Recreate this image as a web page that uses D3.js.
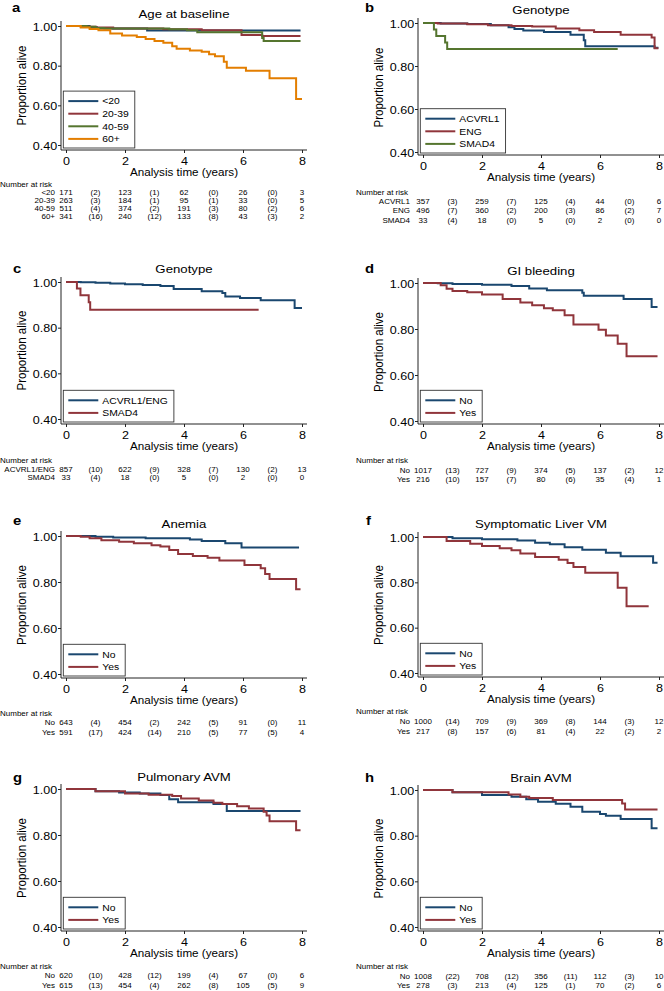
<!DOCTYPE html>
<html><head><meta charset="utf-8">
<script src="https://cdn.jsdelivr.net/npm/d3@7"></script>
<style>
body{margin:0;background:#fff}
svg{display:block;font-family:"Liberation Sans",Arial,Helvetica,sans-serif}
</style>
</head><body><svg id="chart" width="664" height="991"></svg>
<script>
// ---------------- DATA ----------------
const xTicks = [0, 2, 4, 6, 8];
const yTicks = [0.40, 0.60, 0.80, 1.00];
const narYears = [0, 1, 2, 3, 4, 5, 6, 7, 8];
const panelLetters = ["a", "b", "c", "d", "e", "f", "g", "h"];
const titles = ["Age at baseline", "Genotype", "Genotype", "GI bleeding", "Anemia",
  "Symptomatic Liver VM", "Pulmonary AVM", "Brain AVM"];

// group labels
const groupsA = ["<20", "20-39", "40-59", "60+"];
const groupsB = ["ACVRL1", "ENG", "SMAD4"];
const groupsC = ["ACVRL1/ENG", "SMAD4"];
const groupsNoYes = ["No", "Yes"];

// Kaplan-Meier steps [time (years), proportion alive]
const kmA_lt20 = [[0,1],[0.8,0.994],[1.05,0.988],[2.75,0.977],[7.95,0.977]];
const kmA_2039 = [[0,1],[0.5,0.996],[1.0,0.992],[1.6,0.988],[3.3,0.984],[4.6,0.978],[5.95,0.955],[6.65,0.95],[7.95,0.95]];
const kmA_4059 = [[0,1],[0.7,0.996],[1.0,0.99],[1.3,0.988],[3.5,0.984],[4.1,0.978],[4.45,0.968],[6.65,0.94],[6.7,0.925],[7.95,0.925]];
const kmA_60 = [[0,1],[0.5,0.993],[0.8,0.985],[1.1,0.978],[1.5,0.962],[1.9,0.952],[2.4,0.945],[2.7,0.935],[3.0,0.925],[3.3,0.915],[3.6,0.898],[3.75,0.885],[4.2,0.877],[4.6,0.87],[4.85,0.858],[5.05,0.848],[5.35,0.82],[5.45,0.79],[6.1,0.774],[6.9,0.736],[7.8,0.632],[8.0,0.632]];

const kmB_acvrl1 = [[0,1],[0.6,0.998],[1.5,0.995],[2.3,0.99],[2.9,0.98],[3.1,0.972],[3.4,0.965],[4.1,0.958],[5.0,0.945],[5.45,0.92],[5.5,0.892],[7.85,0.885],[7.98,0.885]];
const kmB_eng = [[0,1],[0.5,0.998],[1.5,0.994],[2.2,0.99],[3.0,0.986],[3.7,0.984],[4.5,0.975],[5.3,0.966],[5.8,0.958],[6.7,0.945],[7.75,0.932],[7.85,0.883],[7.98,0.883]];
const kmB_smad4 = [[0,1],[0.37,0.97],[0.45,0.939],[0.75,0.909],[0.82,0.879],[6.6,0.879]];

const kmC_acvrl1eng = [[0,1],[0.5,0.999],[1.0,0.997],[1.5,0.993],[2.0,0.99],[2.6,0.987],[3.2,0.982],[3.65,0.969],[4.6,0.959],[5.3,0.952],[5.4,0.937],[5.9,0.93],[6.6,0.92],[7.75,0.886],[8.0,0.886]];
const kmC_smad4 = [[0,1],[0.37,0.971],[0.49,0.942],[0.77,0.911],[0.82,0.879],[6.53,0.879]];

const kmD_no = [[0,1],[0.5,0.999],[1.0,0.996],[2.0,0.992],[3.0,0.987],[3.6,0.976],[4.2,0.968],[5.4,0.958],[5.45,0.945],[6.8,0.93],[7.75,0.896],[7.95,0.896]];
const kmD_yes = [[0,1],[0.6,0.99],[0.8,0.975],[1.0,0.965],[1.5,0.96],[2.0,0.95],[2.7,0.93],[3.3,0.915],[3.7,0.903],[4.1,0.89],[4.4,0.881],[4.8,0.86],[5.1,0.82],[5.95,0.797],[6.2,0.772],[6.6,0.736],[6.9,0.681],[7.95,0.681]];

const kmE_no = [[0,1],[1.0,0.997],[1.6,0.994],[2.7,0.99],[4.2,0.985],[4.6,0.978],[5.4,0.968],[5.95,0.95],[7.9,0.95]];
const kmE_yes = [[0,1],[0.5,0.997],[0.8,0.99],[1.2,0.982],[1.8,0.975],[2.3,0.968],[2.9,0.96],[3.2,0.954],[3.5,0.939],[3.8,0.922],[4.3,0.913],[4.8,0.905],[5.2,0.893],[6.05,0.874],[6.6,0.86],[6.75,0.835],[6.9,0.813],[7.8,0.768],[7.95,0.768]];

const kmF_no = [[0,1],[1.0,0.995],[2.0,0.99],[3.2,0.985],[3.8,0.975],[4.3,0.968],[4.8,0.955],[5.4,0.944],[6.2,0.93],[6.7,0.915],[7.8,0.886],[7.95,0.886]];
const kmF_yes = [[0,1],[0.8,0.982],[1.6,0.97],[2.0,0.96],[2.6,0.95],[3.0,0.941],[3.3,0.927],[3.8,0.912],[4.6,0.9],[4.9,0.885],[5.1,0.868],[5.5,0.842],[6.6,0.776],[6.9,0.695],[7.65,0.695]];

const kmG_no = [[0,1],[1.0,0.99],[1.8,0.985],[2.5,0.98],[3.2,0.974],[3.5,0.955],[3.8,0.942],[5.0,0.935],[5.45,0.904],[7.95,0.904]];
const kmG_yes = [[0,1],[1.0,0.99],[2.0,0.98],[2.8,0.975],[3.6,0.97],[3.9,0.959],[4.5,0.95],[5.0,0.94],[5.3,0.935],[5.8,0.925],[6.2,0.915],[6.7,0.901],[6.8,0.885],[6.9,0.86],[7.8,0.821],[7.95,0.821]];

const kmH_no = [[0,1],[1.0,0.99],[2.0,0.978],[3.0,0.97],[3.5,0.96],[3.9,0.949],[4.5,0.94],[5.0,0.927],[5.4,0.905],[6.0,0.895],[6.2,0.887],[6.7,0.873],[7.75,0.832],[7.95,0.832]];
const kmH_yes = [[0,1],[1.0,0.99],[2.9,0.98],[3.3,0.97],[3.6,0.965],[4.4,0.956],[6.75,0.941],[6.85,0.915],[7.95,0.915]];

// Number at risk (years 0,2,4,6,8) and events in brackets (odd years)
const atRiskA = [[171,123,62,26,3],[263,184,95,33,5],[511,374,191,80,6],[341,240,133,43,2]];
const eventsA = [[2,1,0,0],[3,1,1,0],[4,2,3,2],[16,12,8,3]];
const atRiskB = [[357,259,125,44,6],[496,360,200,86,7],[33,18,5,2,0]];
const eventsB = [[3,7,4,0],[7,2,3,2],[4,0,0,0]];
const atRiskC = [[857,622,328,130,13],[33,18,5,2,0]];
const eventsC = [[10,9,7,2],[4,0,0,0]];
const atRiskD = [[1017,727,374,137,12],[216,157,80,35,1]];
const eventsD = [[13,9,5,2],[10,7,6,4]];
const atRiskE = [[643,454,242,91,11],[591,424,210,77,4]];
const eventsE = [[4,2,5,0],[17,14,5,5]];
const atRiskF = [[1000,709,369,144,12],[217,157,81,22,2]];
const eventsF = [[14,9,8,3],[8,6,4,2]];
const atRiskG = [[620,428,199,67,6],[615,454,262,105,9]];
const eventsG = [[10,12,4,0],[13,4,8,5]];
const atRiskH = [[1008,708,356,112,10],[278,213,125,70,6]];
const eventsH = [[22,12,11,3],[3,4,1,2]];

// ---------------- STYLE / LAYOUT ----------------
const navy = "#1a476f", maroon = "#90353b", green = "#55752f", orange = "#e37e00";
const colorsA = [navy, maroon, green, orange];
const colorsB = [navy, maroon, green];
const colors2 = [navy, maroon];

const panels = [
  {groups: groupsA, km: [kmA_lt20, kmA_2039, kmA_4059, kmA_60], colors: colorsA, atRisk: atRiskA, events: eventsA},
  {groups: groupsB, km: [kmB_acvrl1, kmB_eng, kmB_smad4], colors: colorsB, atRisk: atRiskB, events: eventsB},
  {groups: groupsC, km: [kmC_acvrl1eng, kmC_smad4], colors: colors2, atRisk: atRiskC, events: eventsC},
  {groups: groupsNoYes, km: [kmD_no, kmD_yes], colors: colors2, atRisk: atRiskD, events: eventsD},
  {groups: groupsNoYes, km: [kmE_no, kmE_yes], colors: colors2, atRisk: atRiskE, events: eventsE},
  {groups: groupsNoYes, km: [kmF_no, kmF_yes], colors: colors2, atRisk: atRiskF, events: eventsF},
  {groups: groupsNoYes, km: [kmG_no, kmG_yes], colors: colors2, atRisk: atRiskG, events: eventsG},
  {groups: groupsNoYes, km: [kmH_no, kmH_yes], colors: colors2, atRisk: atRiskH, events: eventsH}
];

// geometry per panel
const layout = [
  {x0:66,  x8:302, y1:26,  y04:145, ax:150, letterX:12,  letterY:11.5, titleY:17.5, headX:0,   labX:55,  headY:186.7, rowY:195.3, dy:7.8},
  {x0:423, x8:659, y1:23,  y04:152, ax:155, letterX:365, letterY:12,   titleY:13.5, headX:356, labX:410, headY:194.5, rowY:203.5, dy:9.5},
  {x0:66,  x8:302, y1:282, y04:419, ax:424, letterX:13,  letterY:273,  titleY:272.6,headX:0,   labX:55,  headY:462.5, rowY:472,   dy:8.2},
  {x0:423, x8:659, y1:283, y04:421, ax:424, letterX:365, letterY:273,  titleY:274.5,headX:356, labX:410, headY:463.2, rowY:472.5, dy:9.3},
  {x0:66,  x8:302, y1:536, y04:674, ax:678, letterX:13,  letterY:525,  titleY:528,  headX:0,   labX:55,  headY:715.8, rowY:725.2, dy:10},
  {x0:423, x8:659, y1:537, y04:673, ax:677, letterX:366, letterY:525,  titleY:528,  headX:356, labX:410, headY:714.2, rowY:724.2, dy:10},
  {x0:66,  x8:302, y1:789, y04:927, ax:931, letterX:13,  letterY:781.5,titleY:781,  headX:0,   labX:55,  headY:969.2, rowY:978.2, dy:9.3},
  {x0:423, x8:659, y1:790, y04:927, ax:931, letterX:365, letterY:782,  titleY:782,  headX:356, labX:410, headY:969.2, rowY:979.2, dy:9}
];

// text styles (figure text is slightly stretched horizontally)
const TS = {
  letter: {size: 13.5, sx: 1.1, weight: "bold"},
  title:  {size: 11.6, sx: 1.14},
  tick:   {size: 10.9, sx: 1.15},
  xtitle: {size: 10.6, sx: 1.1},
  ytitle: {size: 11.5, sx: 1.1},
  legend: {size: 9.0,  sx: 1.15},
  nar:    {size: 6.9,  sx: 1.16}
};

function T(parent, x, y, str, kind, anchor) {
  const s = TS[kind];
  return parent.append("text")
    .attr("transform", `translate(${x},${y}) scale(${s.sx},1)`)
    .attr("font-size", s.size).attr("font-weight", s.weight || "normal")
    .attr("text-anchor", anchor || "start").attr("fill", "#000").text(str);
}

const svg = d3.select("#chart");
svg.append("rect").attr("width", 664).attr("height", 991).attr("fill", "#fff");

panels.forEach((p, i) => {
  const L = layout[i];
  const g = svg.append("g");
  const x = d3.scaleLinear().domain([0, 8]).range([L.x0, L.x8]);
  const y = d3.scaleLinear().domain([0.4, 1.0]).range([L.y04, L.y1]);
  const axX = L.x0 - 5;

  T(g, L.letterX, L.letterY, panelLetters[i], "letter");
  T(g, (L.x0 + L.x8) / 2, L.titleY, titles[i], "title", "middle");

  // y axis
  const yAxis = d3.axisLeft(y).tickValues(yTicks).tickFormat(d3.format(".2f")).tickSize(3).tickPadding(2);
  const gy = g.append("g").attr("transform", `translate(${axX},0)`).call(yAxis);
  gy.select(".domain").attr("d", `M0,${L.y1 - 5}V${L.ax}`).attr("stroke", "#222");
  gy.selectAll("line").attr("stroke", "#222");
  gy.selectAll("text").attr("x", null).attr("dy", null)
    .attr("transform", `translate(-3.8,4.2) scale(${TS.tick.sx},1)`)
    .attr("font-size", TS.tick.size).attr("font-family", null).attr("fill", "#000");

  // x axis
  const xAxis = d3.axisBottom(x).tickValues(xTicks).tickFormat(d3.format("d")).tickSize(3).tickPadding(2);
  const gx = g.append("g").attr("transform", `translate(0,${L.ax})`).call(xAxis);
  gx.select(".domain").attr("d", `M${axX},0H${L.x8 + 5}`).attr("stroke", "#222");
  gx.selectAll("line").attr("stroke", "#222");
  gx.selectAll("text").attr("y", null).attr("dy", null)
    .attr("transform", `translate(0,15.4) scale(${TS.tick.sx},1)`)
    .attr("font-size", TS.tick.size).attr("font-family", null).attr("fill", "#000");
  gy.attr("font-family", null); gx.attr("font-family", null);

  // axis titles
  T(g, (L.x0 + L.x8) / 2, L.ax + 26, "Analysis time (years)", "xtitle", "middle");
  g.append("text")
    .attr("transform", `translate(${axX - 35},${(L.y1 + L.y04) / 2}) scale(${TS.ytitle.sx},1) rotate(-90)`)
    .attr("text-anchor", "middle").attr("font-size", TS.ytitle.size).attr("fill", "#000").text("Proportion alive");

  // curves
  const line = d3.line().x(d => x(d[0])).y(d => y(d[1])).curve(d3.curveStepAfter);
  p.km.forEach((s, k) => {
    g.append("path").attr("d", line(s)).attr("fill", "none")
      .attr("stroke", p.colors[k]).attr("stroke-width", 2);
  });

  // legend
  const tmp = g.append("text").attr("font-size", TS.legend.size);
  let maxW = 0;
  p.groups.forEach(t => { tmp.text(t); maxW = Math.max(maxW, tmp.node().getComputedTextLength() * TS.legend.sx); });
  tmp.remove();
  const n = p.groups.length;
  const bh = n * 12.6 + 6.5;
  const bw = 39 + maxW + 6;
  const bl = axX + 2.3, bb = L.ax - 2;
  const lg = g.append("g");
  lg.append("rect").attr("x", bl).attr("y", bb - bh).attr("width", bw).attr("height", bh)
    .attr("fill", "#fff").attr("stroke", "#333").attr("stroke-width", 0.9);
  p.groups.forEach((t, k) => {
    const cy = bb - bh + 10 + k * 12.6;
    lg.append("line").attr("x1", bl + 5).attr("x2", bl + 35).attr("y1", cy).attr("y2", cy)
      .attr("stroke", p.colors[k]).attr("stroke-width", 2);
    T(lg, bl + 39, cy + 3.3, t, "legend");
  });

  // number at risk table
  T(g, L.headX, L.headY, "Number at risk", "nar");
  p.groups.forEach((t, k) => {
    const ry = L.rowY + k * L.dy;
    T(g, L.labX, ry, t, "nar", "end");
    narYears.forEach((yr, j) => {
      const val = (j % 2 === 0) ? String(p.atRisk[k][j / 2]) : "(" + p.events[k][(j - 1) / 2] + ")";
      T(g, x(yr), ry, val, "nar", "middle");
    });
  });
});
</script>
</body></html>
